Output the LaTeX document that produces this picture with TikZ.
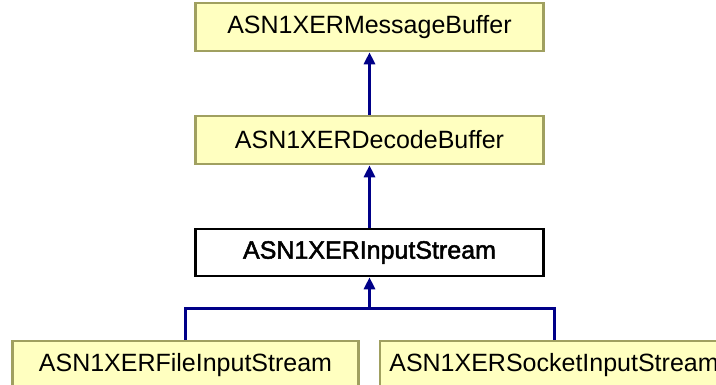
\documentclass[tikz,border=0pt]{standalone}
\usepackage{fontspec}
\setmainfont{Liberation Sans}
\newfontfamily\boldish[FakeBold=2]{Liberation Sans}
\usetikzlibrary{arrows.meta}
\definecolor{boxfill}{HTML}{FFFFC0}
\definecolor{boxdraw}{HTML}{A0A060}
\definecolor{edgecol}{HTML}{000088}
\tikzset{
  cls/.style={draw=boxdraw, fill=boxfill, line width=2.6pt, inner sep=0pt,
    minimum width=348pt, minimum height=48pt, font=\fontsize{25}{30}\selectfont},
  cur/.style={cls, draw=black, fill=white, minimum height=47pt, font=\boldish\fontsize{25}{30}\selectfont},
  edge/.style={draw=edgecol, line width=3pt},
  inh/.style={edge, -{Triangle[width=11pt,length=12pt]}},
}
\begin{document}
\begin{tikzpicture}[x=1pt,y=-1pt]
\useasboundingbox (0,0) rectangle (716,385);
\clip (0,0) rectangle (716,385);
\node[cls] (msg) at (369.5,27) {ASN1XERMessageBuffer};
\node[cls] (dec) at (369.5,140) {ASN1XERDecodeBuffer};
\node[cur] (ins) at (369.5,252.5) {ASN1XERInputStream};
\node[cls, minimum width=346pt] (fis) at (185.5,365) {ASN1XERFileInputStream};
\node[cls] (sis) at (554,365) {ASN1XERSocketInputStream};
\coordinate (j) at (369.5,309);
\draw[inh] (dec.north) -- (msg.south);
\draw[inh] (ins.north) -- (dec.south);
\draw[inh] (j) -- (ins.south);
\draw[edge] (fis.north) -- (fis.north |- j) -- (sis.north |- j) -- (sis.north);
\end{tikzpicture}
\end{document}
